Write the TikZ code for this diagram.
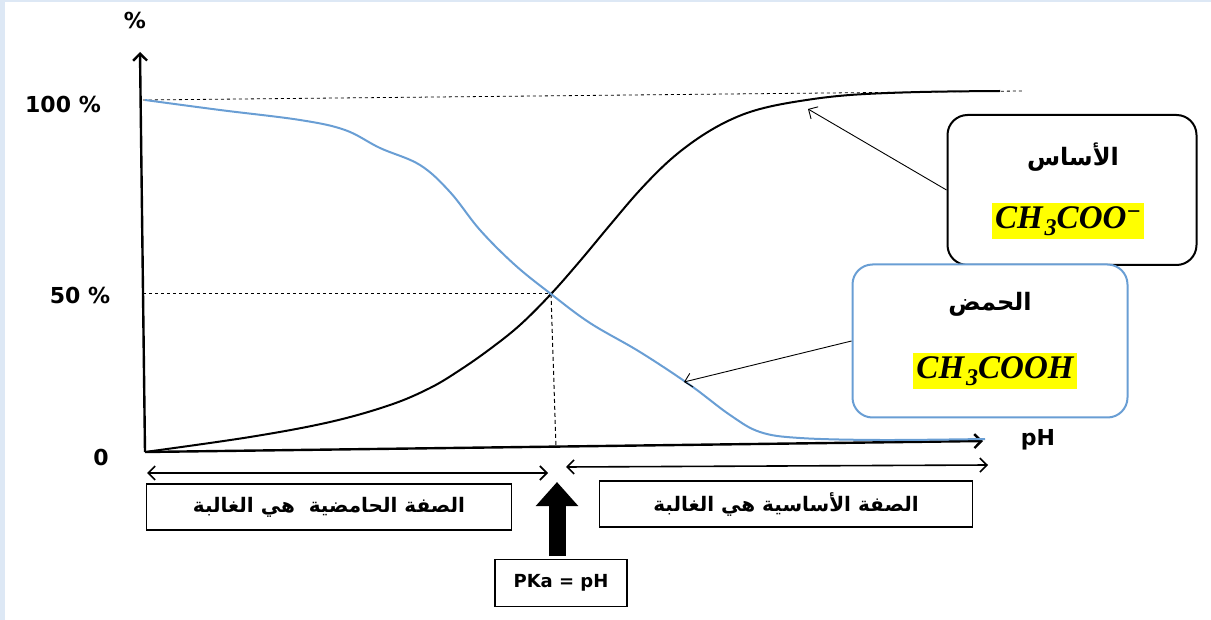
\documentclass[tikz,border=0pt]{standalone}
\usepackage{fontspec}
\setmainfont{DejaVu Sans}
\newfontfamily\arabicfont[Script=Arabic]{DejaVu Sans}
\newfontfamily\chemfont{Liberation Serif}
\TeXXeTstate=1
\usepackage{tikz}
\usetikzlibrary{arrows.meta}
\usepackage{xcolor}
\definecolor{acidblue}{RGB}{105,158,212}
\definecolor{framebl}{RGB}{221,232,245}
\definecolor{hiyel}{RGB}{255,255,0}

\newcommand{\idx}[1]{{\fontsize{24}{26}\selectfont #1}}

\tikzset{
  lbl/.style={font=\bfseries\fontsize{22}{26}\selectfont},
  zone/.style={draw,line width=1.3pt,minimum height=46pt,font=\bfseries\fontsize{20}{24}\selectfont},
  species/.style={draw,line width=2pt,rounded corners=20pt,fill=white},
  chem/.style={fill=hiyel,inner xsep=3pt,inner ysep=2pt,text height=24pt,text depth=8pt,
    font=\chemfont\bfseries\itshape\fontsize{33}{36}\selectfont},
  barb/.style={-{Straight Barb[length=7pt,width=14pt]}}
}

\begin{document}
\begin{tikzpicture}[x=1pt,y=-1pt]
\useasboundingbox (0,0) rectangle (1211,620);
\fill[framebl] (0,0) rectangle (5,620);
\fill[framebl] (0,0) rectangle (1211,2);

% axes
\coordinate (o) at (145,452);
\coordinate (ytop) at (140,52);
\coordinate (xend) at (983,441);
\draw[line width=2.4pt,barb] (o) -- (ytop);
\draw[line width=2.4pt,barb] (o) -- (xend);
\node[lbl] (pc) at (135,20) {\%};
\node[lbl] (l100) at (63,104) {100 \%};
\node[lbl] (l50) at (80,295) {50 \%};
\node[lbl] (l0) at (101,457) {0};
\node[lbl] (ph) at (1038,440) {pH};

% guide lines
\coordinate (h1) at (143,100);
\coordinate (h2) at (1022,91);
\coordinate (m1) at (143,294);
\coordinate (m) at (551,294);
\coordinate (m2) at (556,447);
\draw[dashed,line width=0.8pt] (h1) -- (h2);
\draw[dashed,line width=1pt] (m1) -- (m);
\draw[dash pattern=on 4pt off 3pt,line width=1pt] (m) -- (m2);

% curves
\draw[line width=2pt] plot[smooth,tension=0.6] coordinates {(145,452) (250,437) (330,422) (390,405) (430,388) (460,370) (490,349) (520,325) (551,294) (580,261) (610,225) (640,190) (670,160) (700,137) (730,120) (760,109) (800,101) (850,95) (920,92) (1000,91)};
\draw[acidblue,line width=2pt] plot[smooth,tension=0.6] coordinates {(145,100) (220,110) (300,120) (345,130) (380,148) (420,165) (450,192) (480,230) (515,265) (551,294) (590,323) (640,352) (690,385) (730,415) (760,432) (800,438) (880,440) (985,439)};

% zones
\draw[line width=1.6pt,{Straight Barb[length=7pt,width=14pt]}-{Straight Barb[length=7pt,width=14pt]}] (147,473) -- (548,473);
\draw[line width=1.6pt,{Straight Barb[length=7pt,width=14pt]}-{Straight Barb[length=7pt,width=14pt]}] (566,467) -- (988,465);
\node[zone,minimum width=365pt] (acz) at (329,507) {\arabicfont\beginR الصفة الحامضية\ \ هي الغالبة\endR};
\node[zone,minimum width=373pt] (bsz) at (786,504) {\arabicfont\beginR الصفة الأساسية هي الغالبة\endR};
\node[draw,line width=1.3pt,minimum width=132pt,minimum height=47pt,font=\bfseries\fontsize{18}{21}\selectfont] (pka) at (561,583) {PKa = pH};
\coordinate (tip) at (557,482);
\coordinate (tail) at (557,556);
\draw[line width=17pt,-{Triangle[length=24pt 0 0,width=41pt 0 0]}] (tail) -- (tip);

% species
\node[species,minimum width=249pt,minimum height=150pt] (base) at (1072,190) {};
\node[font=\bfseries\fontsize{24}{28}\selectfont] (bname) at (1073,157) {\arabicfont\beginR الأساس\endR};
\node[chem] (bform) at (1068,221) {CH\kern2pt\raisebox{-7pt}{\idx{3}}COO\raisebox{9pt}{\idx{−}}};
\node[species,draw=acidblue,minimum width=275pt,minimum height=153pt] (acid) at (990,341) {};
\node[font=\bfseries\fontsize{24}{28}\selectfont] (aname) at (990,304) {\arabicfont\beginR الحمض\endR};
\node[chem] (aform) at (995,371) {CH\kern2pt\raisebox{-7pt}{\idx{3}}COOH};

\coordinate (bpt) at (808,109);
\coordinate (apt) at (684,382);
\draw[line width=0.9pt,barb] (base.west) -- (bpt);
\draw[line width=0.9pt,barb] (acid.west) -- (apt);
\end{tikzpicture}
\end{document}
